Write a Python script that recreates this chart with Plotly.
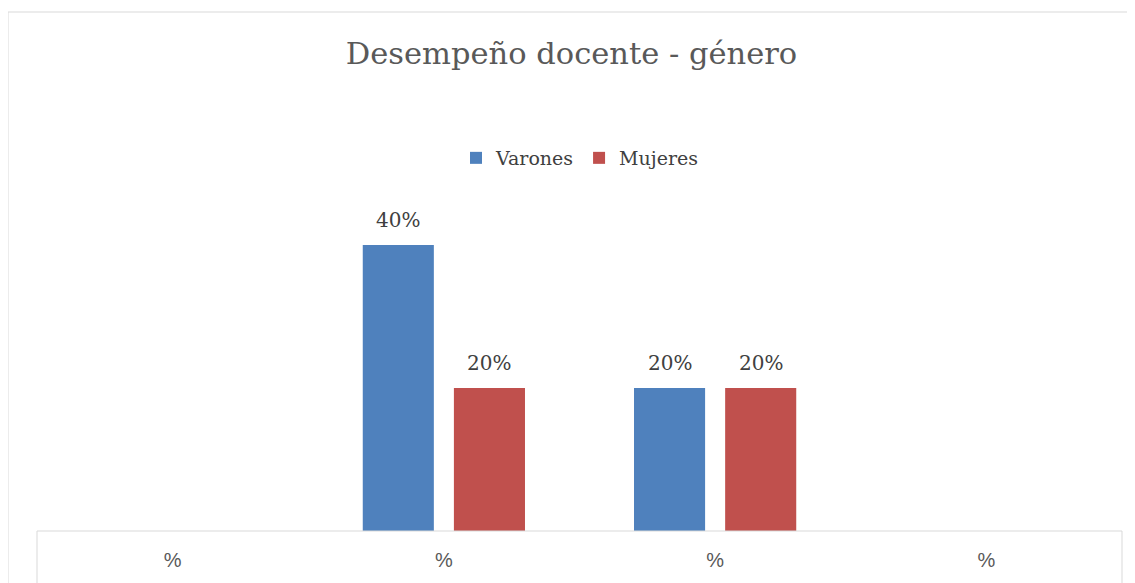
import plotly.graph_objects as go

categories = ["%", "%", "%", "%"]
series_names = ["Varones", "Mujeres"]
varones = [None, 0.40, 0.20, None]
mujeres = [None, 0.20, 0.20, None]
colors = ["#4F81BD", "#C0504D"]

# the page body has an 8px margin, so the figure is drawn 8px right/down
OFF = 8
W, H = 1135 - OFF, 583 - OFF
L, R, T, B = 37 - OFF, 13, 180 - OFF, 52
ph = H - T - B
pw = W - L - R

x = list(range(len(categories)))

fig = go.Figure()
for name, vals, col in zip(series_names, [varones, mujeres], colors):
    fig.add_trace(go.Bar(
        x=x, y=vals, name=name, marker=dict(color=col, line=dict(width=0)),
        hoverinfo="skip",
    ))

# data labels (positioned from the data values through the axes)
ann = []
for i, vals in enumerate([varones, mujeres]):
    for xi, v in zip(x, vals):
        if v is None:
            continue
        ann.append(dict(
            x=xi, y=v, xref="x", yref="y", text=f"{v:.0%}", showarrow=False,
            xshift=(-45.5 if i == 0 else 45.5), yshift=25, yanchor="middle",
            font=dict(family="DejaVu Serif", size=20, color="#404040"),
        ))


def px_x(p):
    return (p - OFF - L) / pw


def px_y(p):
    return (H - B - (p - OFF)) / ph


shapes = [
    # outer chart border
    dict(type="rect", xref="paper", yref="paper",
         x0=px_x(8), x1=px_x(1150), y0=px_y(600), y1=px_y(12),
         line=dict(color="#D9D9D9", width=1), fillcolor="rgba(0,0,0,0)", layer="below"),
    # axis baseline / table borders
    dict(type="line", xref="paper", yref="paper", x0=0, x1=1, y0=0, y1=0,
         line=dict(color="#D9D9D9", width=1)),
    dict(type="line", xref="paper", yref="paper", x0=0, x1=0, y0=0, y1=px_y(600),
         line=dict(color="#D9D9D9", width=1)),
    dict(type="line", xref="paper", yref="paper", x0=1, x1=1, y0=0, y1=px_y(600),
         line=dict(color="#D9D9D9", width=1)),
]

fig.update_layout(
    width=W, height=H,
    margin=dict(l=L, r=R, t=T, b=B, pad=0),
    paper_bgcolor="white", plot_bgcolor="white",
    barmode="group", bargap=0.328, bargroupgap=0.22,
    title=dict(text="Desempeño docente - género", x=0.5, xanchor="center",
               y=1 - (53 - OFF) / H, yanchor="middle",
               font=dict(family="DejaVu Serif", size=30.5, color="#595959")),
    legend=dict(orientation="h", x=0.5, xanchor="center", y=px_y(158), yanchor="middle",
                font=dict(family="DejaVu Serif", size=19, color="#404040"),
                itemwidth=30, tracegroupgap=0, bgcolor="rgba(0,0,0,0)"),
    xaxis=dict(tickmode="array", tickvals=x, ticktext=categories, range=[-0.5, 3.5],
               showgrid=False, zeroline=False, showline=False,
               ticks="outside", ticklen=11, tickcolor="rgba(0,0,0,0)",
               tickfont=dict(family="Liberation Sans", size=20, color="#595959"),
               fixedrange=True),
    yaxis=dict(range=[0, ph / 715.0], visible=False, fixedrange=True),
    annotations=ann,
    shapes=shapes,
    showlegend=True,
)

fig.write_html("out.html")
